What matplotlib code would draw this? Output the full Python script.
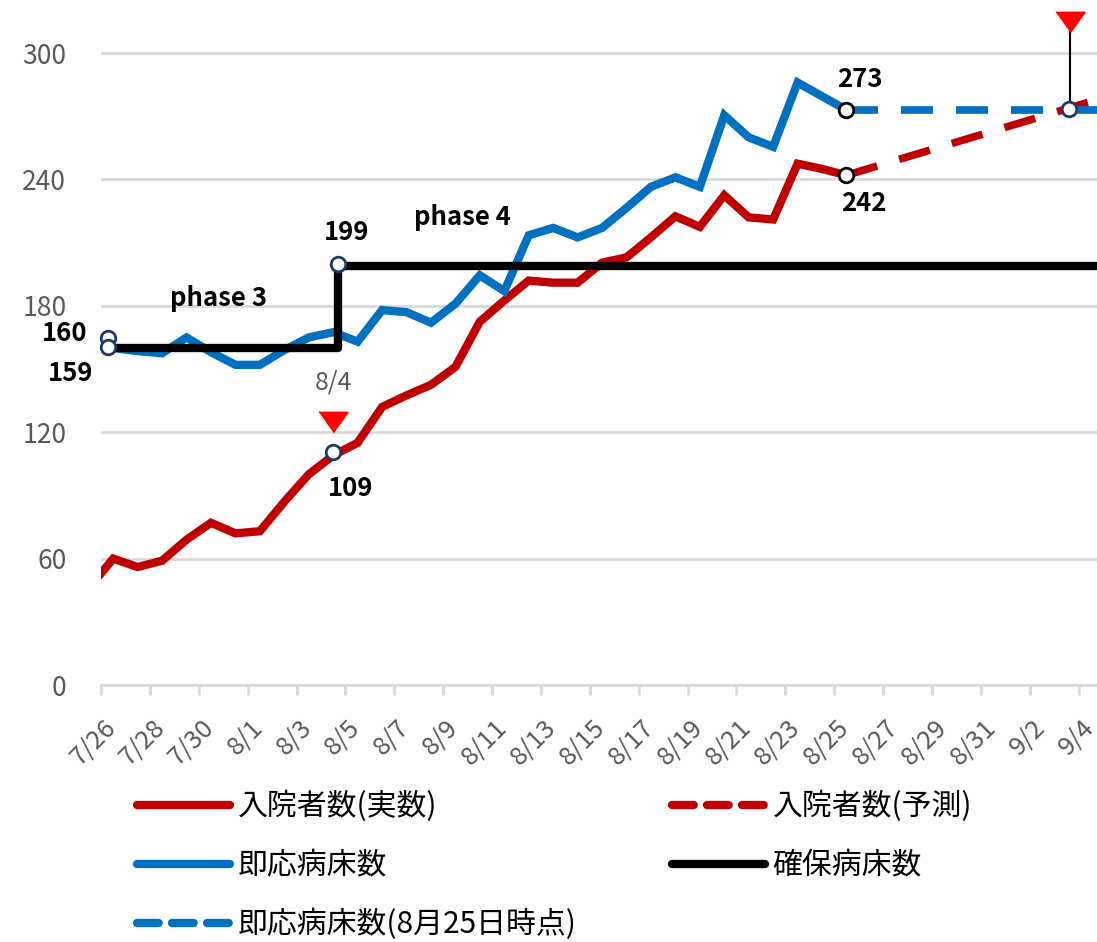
import matplotlib
matplotlib.use("Agg")
import matplotlib.pyplot as plt
import matplotlib.transforms as mtransforms
from matplotlib.lines import Line2D

plt.rcParams['font.family'] = ['Noto Sans CJK JP', 'DejaVu Sans']

# x = day index, 0 = 7/26
tick_labels = ['7/26', '7/28', '7/30', '8/1', '8/3', '8/5', '8/7', '8/9', '8/11', '8/13',
               '8/15', '8/17', '8/19', '8/21', '8/23', '8/25', '8/27', '8/29', '8/31', '9/2', '9/4']

# 入院者数(実数), from 7/25 to 8/25
inpatient_days = list(range(-1, 31))
inpatient = [46, 60, 56, 59, 69, 77, 72, 73, 87, 100, 109, 115, 132, 137.5, 142.5, 151,
             172.5, 182.5, 192, 191, 191, 200.5, 203, 212.5, 222.5, 217.5, 232.5, 222, 221,
             247.5, 245, 242]

# 入院者数(予測)
forecast_days = [30, 40]
forecast = [242, 277]

# 即応病床数, 7/26 to 8/25
ready_days = list(range(0, 31))
ready_beds = [160, 158.5, 157.5, 165, 158, 152, 152, 159, 165, 167.5, 163, 178, 177, 172,
              181, 194.5, 187, 213.5, 217, 212.5, 217, 226.5, 236.5, 241, 236.5, 270.5, 260,
              255.5, 286, 279.5, 273]

# 即応病床数(8月25日時点)
ready_fixed_days = [30, 41]
ready_fixed = [273, 273]

# 確保病床数 (phase 3 -> phase 4 on 8/4)
secured_days = [-0.2, 9.2, 41]
secured_beds = [160, 199, 199]

# marked points and their labels
point_days = [-0.2, -0.2, 9.2, 9.0, 30, 30, 39.1]
point_vals = [164.5, 160.5, 200, 110.5, 273, 242, 273.5]
point_labels = ['160', '159', '199', '109', '273', '242', '']
point_edges = ['#1F3864', '#1F3864', '#1F3864', '#1F3864', 'black', 'black', '#1F3864']
label_offsets = [(-44, 5), (-38, -27), (8, 31), (17, -36), (13, 30), (17, -28), (0, 0)]

# red arrows
arrow_days = [9.0, 39.15]
arrow_vals = [124.8, 314.7]

RED = '#C00000'
BLUE = '#0070C0'
GRAY = '#595959'
GRID = '#D9D9D9'

fig = plt.figure(figsize=(10.97, 9.42), dpi=100)
ax = fig.add_axes([101 / 1097, 257 / 942, 996 / 1097, 685 / 942])

tri = [(-1, 0.7), (1, 0.7), (0, -0.7)]

ax.plot(inpatient_days, inpatient, color=RED, lw=6, solid_joinstyle='miter', zorder=3)
ax.plot(forecast_days, forecast, color=RED, lw=5.5, dashes=(4.2, 3.0), dash_capstyle='butt', zorder=3)
ax.plot(ready_days, ready_beds, color=BLUE, lw=6, solid_joinstyle='miter', zorder=3)
ax.plot(ready_fixed_days, ready_fixed, color=BLUE, lw=5.5, dashes=(4.2, 3.0), dash_capstyle='butt', zorder=3)
ax.plot(secured_days, secured_beds, color='black', lw=6, drawstyle='steps-post', zorder=4)

# thin stem from the top arrow down to 9/3
ax.plot([arrow_days[1], arrow_days[1]], [arrow_vals[1], point_vals[6]], color='black', lw=1.5, zorder=4)
ax.plot(arrow_days, arrow_vals, linestyle='none', marker=tri, markersize=21, color='#FF0000',
        zorder=6, clip_on=False)

for d, v, lab, ec, off in zip(point_days, point_vals, point_labels, point_edges, label_offsets):
    ax.plot(d, v, marker='o', markersize=10.5, markerfacecolor='white', markeredgecolor=ec,
            markeredgewidth=2, zorder=7, clip_on=False)
    if lab:
        ax.annotate(lab, (d, v), xytext=off, textcoords='offset pixels', ha='center', va='center',
                    fontsize=18.5, fontweight='bold', color='black', zorder=8)

ax.annotate('8/4', (arrow_days[0], arrow_vals[0]), xytext=(0, 40), textcoords='offset pixels',
            ha='center', va='center', fontsize=18, color=GRAY)
ax.text(4.3, 183.5, 'phase 3', ha='center', va='center', fontsize=18.5, fontweight='bold')
ax.text(14.3, 222, 'phase 4', ha='center', va='center', fontsize=18.5, fontweight='bold')

ax.set_xlim(-0.5, 40.25)
ax.set_ylim(0, 325.2)

ax.set_yticks([0, 60, 120, 180, 240, 300])
ax.tick_params(axis='y', length=0, pad=25, labelsize=19, labelcolor=GRAY)
ax.yaxis.grid(True, color=GRID, lw=2)
ax.set_axisbelow(True)

ax.set_xticks([-0.5 + 2 * i for i in range(len(tick_labels))])
ax.set_xticklabels(tick_labels, rotation=45, ha='right', va='center', rotation_mode='anchor')
ax.tick_params(axis='x', length=7, width=2, color=GRID, pad=21, labelsize=18.5, labelcolor=GRAY)
shift = mtransforms.ScaledTranslation(11 / 100, 0, fig.dpi_scale_trans)
for lbl in ax.get_xticklabels():
    lbl.set_transform(lbl.get_transform() + shift)

for s in ['top', 'right', 'left']:
    ax.spines[s].set_visible(False)
ax.spines['bottom'].set_color(GRID)
ax.spines['bottom'].set_linewidth(2)

handles = [
    Line2D([], [], color=RED, lw=6, solid_capstyle='round'),
    Line2D([], [], color=BLUE, lw=6, solid_capstyle='round'),
    Line2D([], [], color=BLUE, lw=6, dashes=(2.6, 1.6), dash_capstyle='round'),
    Line2D([], [], color=RED, lw=6, dashes=(2.6, 1.6), dash_capstyle='round'),
    Line2D([], [], color='black', lw=6, solid_capstyle='round'),
]
labels = ['入院者数(実数)', '即応病床数', '即応病床数(8月25日時点)', '入院者数(予測)', '確保病床数']
fig.legend(handles, labels, loc='upper left', bbox_to_anchor=(137 / 1097, 1 - 791 / 942), ncol=2,
           frameon=False, fontsize=21.5, handlelength=3.1, handletextpad=0.27, columnspacing=3.2,
           labelspacing=0.93, borderpad=0, borderaxespad=0)

fig.savefig('out.png', dpi=100)
